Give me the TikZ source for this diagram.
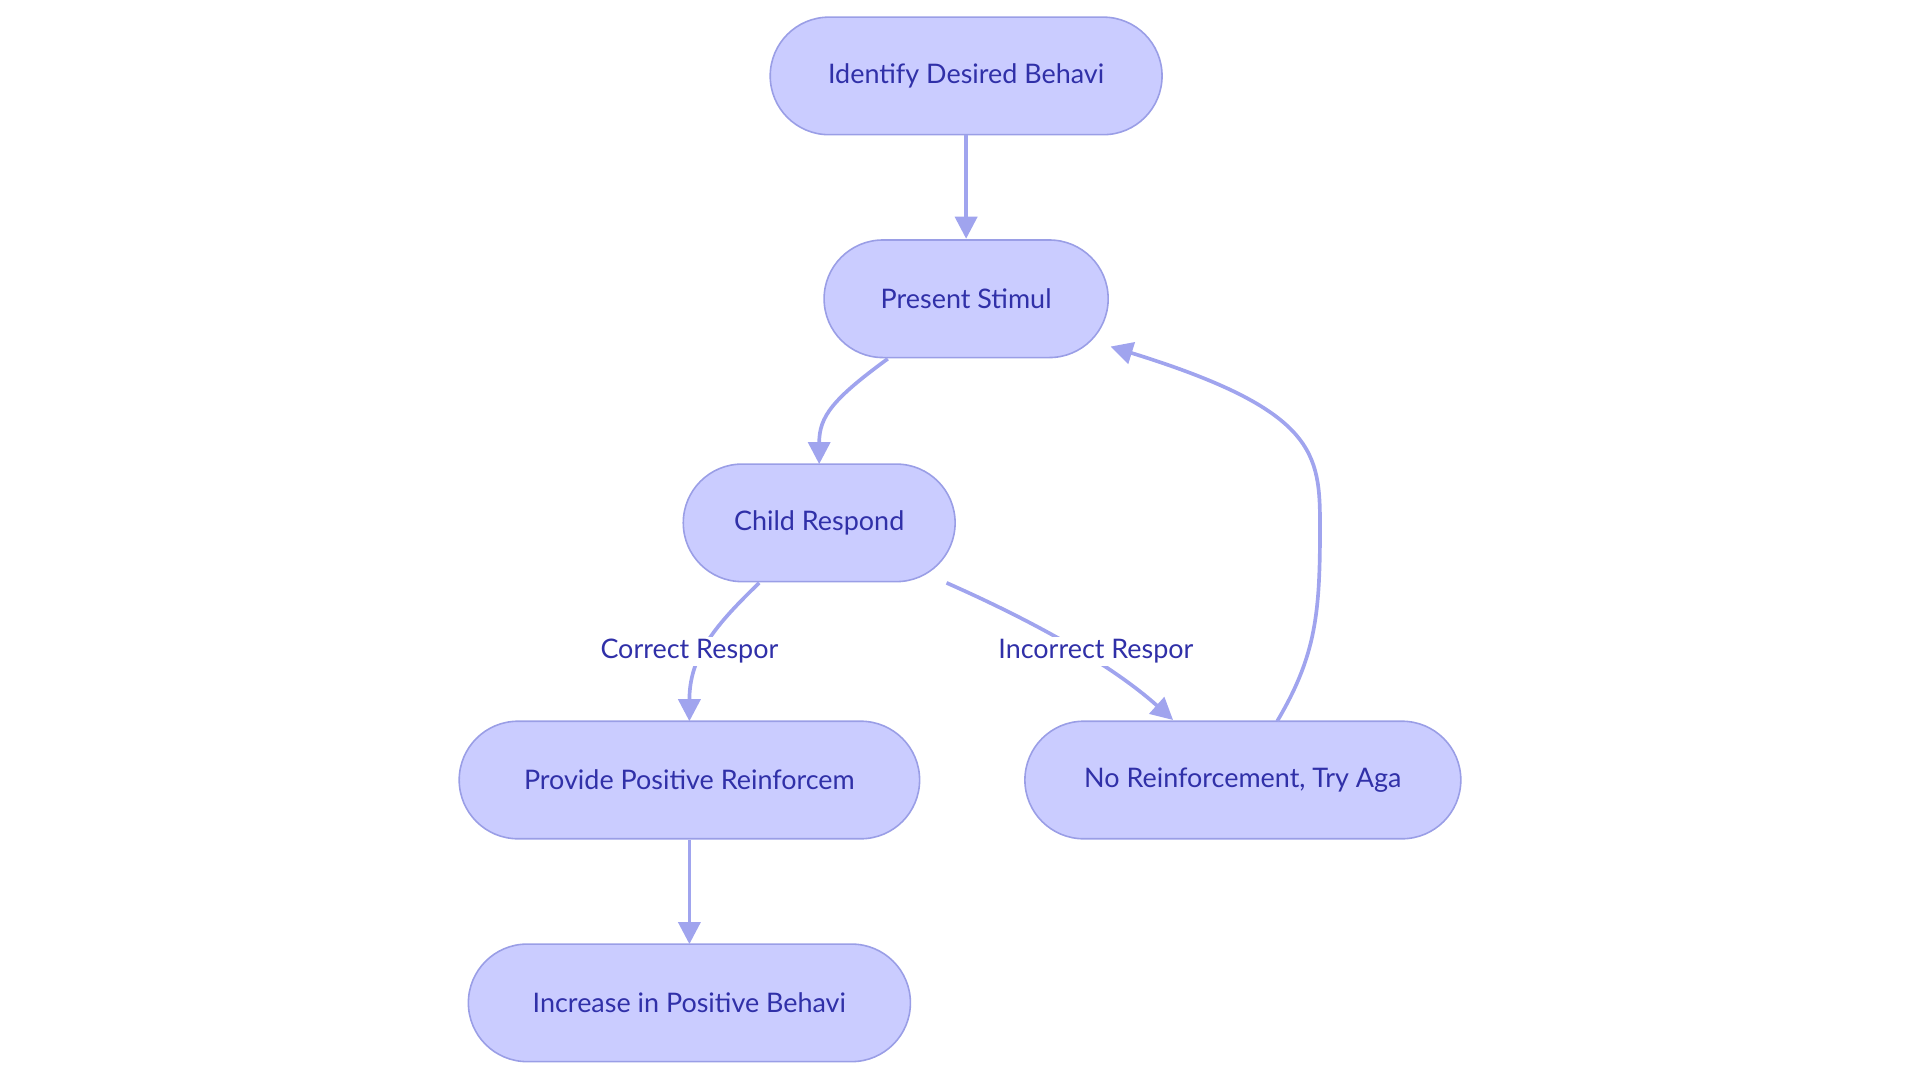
\documentclass[tikz,border=0pt]{standalone}
\usepackage{fontspec}
\setmainfont{Lato}
\usetikzlibrary{arrows.meta}
\definecolor{nfill}{HTML}{CACCFF}
\definecolor{nline}{HTML}{9A9EE6}
\definecolor{ntext}{HTML}{3030A8}
\definecolor{aline}{HTML}{A0A4EE}
\begin{document}
\begin{tikzpicture}[x=1pt,y=-1pt,
  box/.style={draw=nline,fill=nfill,line width=1.3pt,rounded corners=48pt,minimum height=96pt,text=ntext,font=\fontsize{22}{26}\selectfont,inner sep=0pt},
  arr/.style={draw=aline,line width=3pt,-{Triangle[length=18pt,width=18pt]}},
  lab/.style={fill=white,text=ntext,font=\fontsize{22}{26}\selectfont,inner sep=2pt}]
\useasboundingbox (0,0) rectangle (1568,882);
\node[box,minimum width=320pt] (a) at (789,62) {Identify Desired Behavi};
\node[box,minimum width=232pt] (b) at (789,244) {Present Stimul};
\node[box,minimum width=222pt] (c) at (669,427) {Child Respond};
\node[box,minimum width=376pt] (d) at (563,637) {Provide Positive Reinforcem};
\node[box,minimum width=356pt] (e) at (1015,637) {No Reinforcement, Try Aga};
\node[box,minimum width=361pt] (f) at (563,819) {Increase in Positive Behavi};
\coordinate (a1) at (789,110); \coordinate (b1) at (789,195);
\coordinate (b2) at (725,293); \coordinate (c1) at (669,379);
\coordinate (c2) at (620,476); \coordinate (d1) at (563,589);
\coordinate (c3) at (773,476); \coordinate (e1) at (958,588);
\coordinate (e2) at (1043,589); \coordinate (b3) at (907,283);
\coordinate (d2) at (563,686); \coordinate (f1) at (563,771);
\draw[arr] (a1) -- (b1);
\draw[arr] (b2) .. controls (680,326) and (669,340) .. (c1);
\draw[arr] (c2) .. controls (585,510) and (563,535) .. (d1);
\draw[arr] (c3) .. controls (850,510) and (910,545) .. (e1);
\draw[arr] (e2) .. controls (1075,535) and (1078,500) .. (1078,430) .. controls (1078,370) and (1075,335) .. (b3);
\draw[arr] (d2) -- (f1);
\node[lab] (l1) at (563,532) {Correct Respor};
\node[lab] (l2) at (895,532) {Incorrect Respor};
\end{tikzpicture}
\end{document}
